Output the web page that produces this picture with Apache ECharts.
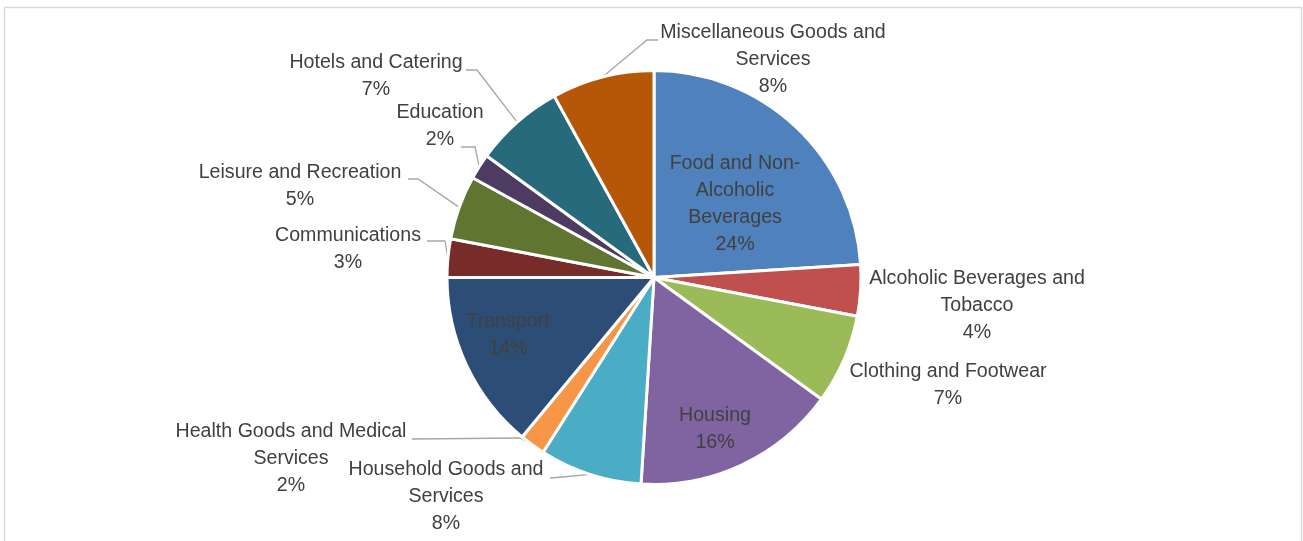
<!DOCTYPE html>
<html>
<head>
<meta charset="utf-8">
<script src="https://cdn.jsdelivr.net/npm/echarts@6/dist/echarts.min.js"></script>
<style>
  html, body { margin: 0; padding: 0; background: #ffffff; }
  #chart { width: 1303px; height: 541px; }
</style>
</head>
<body>
<div id="chart"></div>
<script>
// Expenditure categories and their shares (%)
const categories = [
  'Food and Non-Alcoholic Beverages',
  'Alcoholic Beverages and Tobacco',
  'Clothing and Footwear',
  'Housing',
  'Household Goods and Services',
  'Health Goods and Medical Services',
  'Transport',
  'Communications',
  'Leisure and Recreation',
  'Education',
  'Hotels and Catering',
  'Miscellaneous Goods and Services'
];
const shares = [24, 4, 7, 16, 8, 2, 14, 3, 5, 2, 7, 8];

// Wrapped label text for each category
const labelTexts = [
  'Food and Non-\nAlcoholic\nBeverages',
  'Alcoholic Beverages and\nTobacco',
  'Clothing and Footwear',
  'Housing',
  'Household Goods and\nServices',
  'Health Goods and Medical\nServices',
  'Transport',
  'Communications',
  'Leisure and Recreation',
  'Education',
  'Hotels and Catering',
  'Miscellaneous Goods and\nServices'
];

const sliceColors = [
  '#4f81bd', '#c0504d', '#9bbb59', '#8064a2', '#4bacc6', '#f79646',
  '#2c4d75', '#772c2a', '#5f7530', '#4d3b62', '#276a7c', '#b65708'
];

// Categories whose labels sit on the slice itself
const innerLabels = [0, 3, 6];
// Categories placed beside the pie without a leader line
const plainOuterLabels = [1, 2];

// Label anchors (text block centre) and leader-line routes (label end, elbow)
const labelPlacement = [
  { x: 735, y: 204 },
  { x: 977, y: 306 },
  { x: 948, y: 385 },
  { x: 715, y: 429 },
  { x: 446, y: 497, guide: [[550, 478], [563, 477]] },
  { x: 291, y: 459, guide: [[412, 439], [520, 438]] },
  { x: 508, y: 335 },
  { x: 348, y: 249, guide: [[427, 241], [445, 241]] },
  { x: 300, y: 186, guide: [[408, 179], [418, 179]] },
  { x: 440, y: 126, guide: [[461, 147], [475, 147]] },
  { x: 376, y: 76,  guide: [[466, 70], [477, 70]] },
  { x: 773, y: 60,  guide: [[658, 40], [647, 40]] }
];

const CX = 654, CY = 277.5, R = 207;

const total = shares.reduce((a, b) => a + b, 0);
function edgePoint(i) {
  let cum = 0;
  for (let k = 0; k < i; k++) cum += shares[k];
  const a = (cum + shares[i] / 2) / total * 2 * Math.PI;
  return [CX + R * Math.sin(a), CY - R * Math.cos(a)];
}

const FONT = "'Liberation Sans', Arial, sans-serif";

const chart = echarts.init(document.getElementById('chart'), null, { renderer: 'canvas' });

const seriesData = categories.map((name, i) => {
  const item = {
    name: name,
    value: shares[i],
    itemStyle: { color: sliceColors[i] }
  };
  if (innerLabels.includes(i) || plainOuterLabels.includes(i)) {
    item.labelLine = { show: false };
  }
  return item;
});

chart.setOption({
  backgroundColor: '#ffffff',
  animation: false,
  graphic: [
    {
      type: 'rect',
      silent: true,
      shape: { x: 4.5, y: 7.5, width: 1297, height: 560 },
      style: { fill: '#ffffff', stroke: '#d9d9d9', lineWidth: 1.5 },
      z: -10
    }
  ],
  series: [
    {
      type: 'pie',
      center: [CX, CY],
      radius: [0, R],
      startAngle: 90,
      clockwise: true,
      avoidLabelOverlap: false,
      data: seriesData,
      itemStyle: { borderColor: '#ffffff', borderWidth: 3 },
      label: {
        show: true,
        position: 'outside',
        fontFamily: FONT,
        fontSize: 19.6,
        lineHeight: 27,
        color: '#404040',
        align: 'center',
        formatter: function (p) {
          return labelTexts[p.dataIndex] + '\n' + Math.round(p.percent) + '%';
        }
      },
      labelLine: {
        show: true,
        lineStyle: { color: '#a6a6a6', width: 1.3 }
      },
      labelLayout: function (params) {
        const i = params.dataIndex;
        const p = labelPlacement[i];
        const out = {
          x: p.x,
          y: p.y,
          align: 'center',
          verticalAlign: 'middle'
        };
        if (p.guide) {
          out.labelLinePoints = [edgePoint(i), p.guide[1], p.guide[0]];
        }
        return out;
      },
      emphasis: { disabled: true }
    }
  ]
});
</script>
</body>
</html>
